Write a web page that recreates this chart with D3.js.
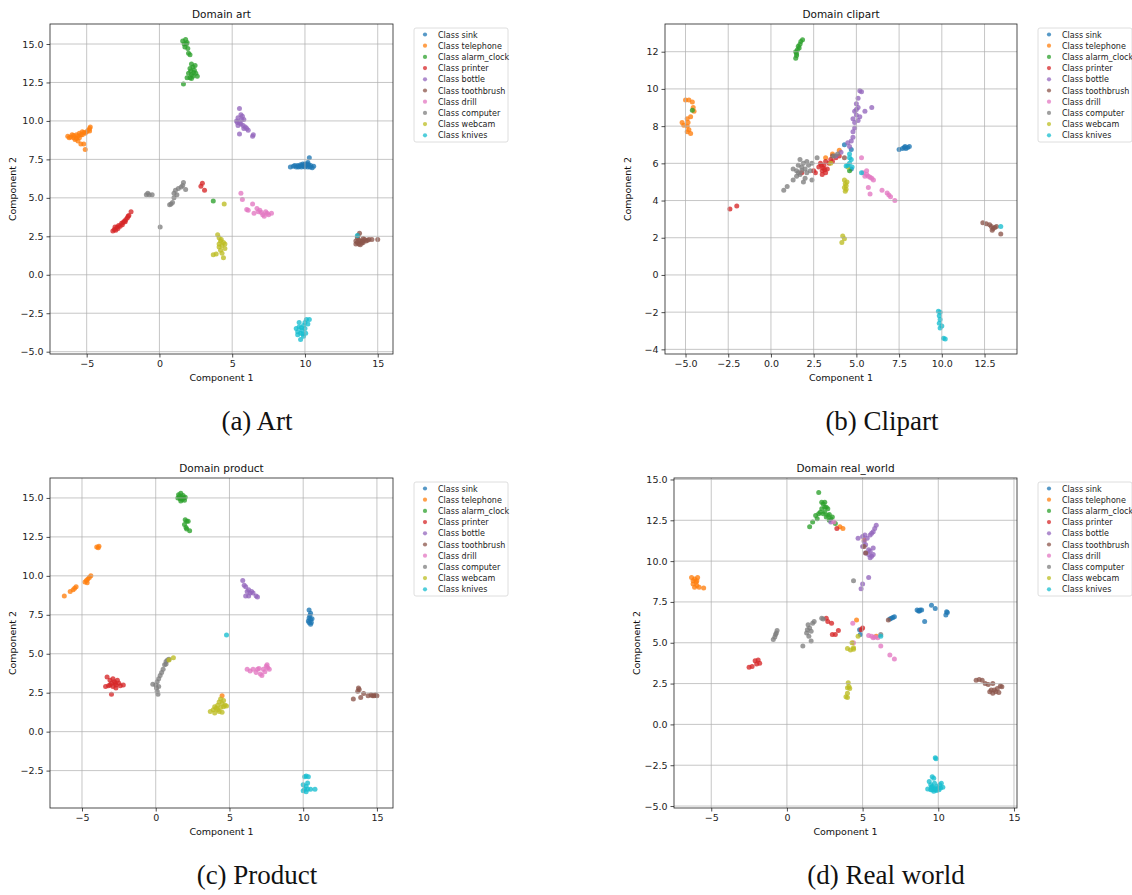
<!DOCTYPE html>
<html>
<head>
<meta charset="utf-8">
<script src="https://cdn.jsdelivr.net/npm/d3@7"></script>
<style>
  body { margin: 0; background: #fff; }
  svg { display: block; }
</style>
</head>
<body>
<div id="chart"></div>
<script>
// classes, in legend order
const classes = ['sink', 'telephone', 'alarm_clock', 'printer', 'bottle', 'toothbrush', 'drill', 'computer', 'webcam', 'knives'];
const colors = ['#1f77b4', '#ff7f0e', '#2ca02c', '#d62728', '#9467bd', '#8c564b', '#e377c2', '#7f7f7f', '#bcbd22', '#17becf'];

const domainNames = ['art', 'clipart', 'product', 'real_world'];
const captions = ['(a) Art', '(b) Clipart', '(c) Product', '(d) Real world'];

// tick labels per panel
const xTicksA = [-5, 0, 5, 10, 15];
const yTicksA = [-5, -2.5, 0, 2.5, 5, 7.5, 10, 12.5, 15];
const xTicksB = [-5, -2.5, 0, 2.5, 5, 7.5, 10, 12.5];
const yTicksB = [-4, -2, 0, 2, 4, 6, 8, 10, 12];
const xTicksC = [-5, 0, 5, 10, 15];
const yTicksC = [-2.5, 0, 2.5, 5, 7.5, 10, 12.5, 15];
const xTicksD = [-5, 0, 5, 10, 15];
const yTicksD = [-5, -2.5, 0, 2.5, 5, 7.5, 10, 12.5, 15];

// points per class (same order as classes)
const artData = [
  [[9.0,7.0],[9.2,7.05],[9.4,7.0],[9.5,7.1],[9.6,7.05],[9.7,7.15],[9.8,7.1],[9.9,7.05],[10.0,7.2],[10.1,7.1],[10.2,7.3],[10.3,7.6],[10.2,7.0],[10.4,7.1],[10.5,6.95],[10.6,7.05],[9.85,7.2],[10.25,7.15],[9.3,7.1],[10.0,7.0],[9.55,7.0],[10.35,7.0],[10.15,7.2],[9.75,7.0]],
  [[-6.3,9.0],[-6.1,8.95],[-5.9,9.05],[-5.8,8.8],[-5.7,9.1],[-5.6,8.7],[-5.5,9.2],[-5.4,8.5],[-5.3,9.3],[-5.2,8.5],[-5.2,9.25],[-5.0,9.3],[-4.9,9.4],[-4.8,9.5],[-4.75,9.6],[-5.1,8.15],[-5.6,9.0],[-5.9,8.9],[-5.4,9.1],[-6.0,9.1],[-5.7,8.85],[-5.1,9.2],[-5.5,8.9],[-6.2,8.9],[-5.3,9.1],[-4.8,9.35]],
  [[1.6,15.2],[1.8,15.3],[1.7,15.0],[1.9,15.1],[1.75,14.8],[1.95,14.7],[2.0,14.4],[2.1,14.3],[2.2,13.7],[2.3,13.5],[2.1,13.4],[2.4,13.3],[2.0,13.1],[2.2,13.0],[2.5,13.1],[2.3,12.9],[2.1,12.8],[1.9,12.8],[2.6,12.9],[1.65,12.4],[2.45,13.6],[2.2,12.75],[2.15,13.25],[2.35,13.15],[1.85,15.0],[3.7,4.8]],
  [[-3.2,2.85],[-3.1,2.95],[-3.0,2.9],[-2.9,3.1],[-2.8,3.2],[-2.7,3.15],[-2.6,3.35],[-2.5,3.4],[-2.4,3.5],[-2.3,3.6],[-2.2,3.7],[-2.1,3.85],[-1.95,4.1],[-2.85,3.0],[-2.55,3.25],[-3.05,3.1],[-2.35,3.45],[-2.15,3.8],[2.95,5.95],[2.85,5.75],[3.1,5.5]],
  [[5.5,10.8],[5.6,10.4],[5.4,10.2],[5.7,10.3],[5.3,10.0],[5.5,9.9],[5.8,10.1],[5.6,9.8],[5.4,9.7],[5.9,9.6],[6.0,9.5],[6.1,9.4],[5.8,9.5],[5.5,9.15],[6.4,9.0],[6.45,9.1],[5.35,9.9],[5.65,10.1],[5.75,9.7]],
  [[13.5,2.0],[13.6,2.1],[13.7,2.0],[13.8,2.2],[13.9,2.05],[14.0,2.1],[14.1,2.3],[13.6,2.4],[13.75,2.7],[13.5,2.2],[14.2,2.2],[14.4,2.3],[14.6,2.3],[15.0,2.3],[13.8,1.95],[14.0,2.35],[13.65,2.55],[14.3,2.25],[13.7,2.25],[13.95,2.2]],
  [[5.6,5.3],[5.7,4.9],[6.0,4.25],[6.1,4.2],[6.4,4.6],[6.5,4.0],[6.7,4.3],[6.9,4.2],[7.0,4.05],[7.1,3.9],[7.2,3.8],[7.3,4.1],[7.5,3.9],[7.7,4.0],[6.8,4.1],[7.4,4.0]],
  [[-0.9,5.2],[-0.8,5.3],[-0.7,5.2],[-0.5,5.2],[0.05,3.1],[0.7,4.55],[0.8,4.6],[0.9,4.7],[1.0,5.0],[1.0,5.3],[1.1,5.5],[1.3,5.6],[1.5,5.7],[1.6,5.8],[1.65,6.0],[1.8,5.55],[1.2,5.2]],
  [[3.7,1.3],[3.9,1.35],[4.0,2.6],[4.1,2.4],[4.2,2.2],[4.1,1.8],[4.2,1.6],[4.3,1.9],[4.4,2.1],[4.5,2.0],[4.5,1.7],[4.4,1.1],[4.3,1.4],[4.1,2.0],[4.25,2.3],[4.45,4.6]],
  [[9.4,-3.5],[9.5,-3.7],[9.6,-3.4],[9.7,-3.8],[9.8,-3.6],[9.9,-3.3],[10.0,-3.1],[10.1,-2.9],[10.3,-2.9],[10.0,-3.5],[9.9,-4.0],[9.7,-4.2],[10.05,-3.8],[9.5,-3.9],[10.2,-3.2],[9.6,-3.1],[9.75,-3.45],[9.85,-3.85],[13.6,2.55]]
];

const clipartData = [
  [[7.5,6.75],[7.7,6.8],[7.8,6.85],[7.9,6.8],[8.0,6.85],[8.1,6.9],[7.85,6.9],[4.3,7.0],[4.7,6.75],[4.7,5.7]],
  [[-5.0,9.4],[-4.8,9.4],[-4.6,9.3],[-4.55,9.0],[-4.5,8.8],[-4.7,8.5],[-4.9,8.4],[-5.2,8.2],[-5.1,8.05],[-4.9,8.0],[-4.8,7.8],[-4.7,7.6],[-4.9,7.7],[-4.85,8.2],[4.0,6.7],[3.6,6.5],[3.2,6.3]],
  [[1.45,11.65],[1.5,11.8],[1.45,12.0],[1.55,12.1],[1.6,12.3],[1.7,12.4],[1.75,12.55],[1.85,12.65],[1.5,11.9],[1.65,12.2],[-4.6,8.85],[4.6,5.6]],
  [[2.8,5.8],[2.9,6.0],[3.0,5.6],[3.1,5.9],[3.2,6.1],[3.3,5.7],[3.0,5.4],[3.2,5.5],[3.4,6.0],[3.5,6.2],[3.6,6.1],[2.6,5.5],[2.5,5.6],[3.05,5.75],[2.95,5.9],[3.15,5.65],[-2.4,3.55],[-2.0,3.7],[4.0,6.4],[3.8,6.3],[1.8,5.5]],
  [[5.2,9.9],[5.3,9.85],[5.1,9.5],[5.0,9.2],[5.1,9.0],[4.9,8.8],[5.0,8.6],[4.8,8.4],[5.2,8.5],[5.1,8.3],[4.9,8.2],[4.9,7.9],[4.8,7.7],[4.8,7.4],[4.7,7.2],[4.5,7.1],[4.6,6.9],[5.5,8.8],[5.9,9.0],[5.0,8.9],[4.1,6.6],[3.8,6.4]],
  [[12.4,2.8],[12.6,2.75],[12.8,2.7],[12.9,2.6],[13.0,2.5],[12.95,2.4],[13.1,2.55],[13.2,2.6],[13.45,2.2],[4.3,6.3],[3.6,6.4]],
  [[5.3,6.3],[5.4,5.5],[5.5,5.3],[5.6,5.4],[5.7,5.3],[5.8,5.25],[5.9,5.2],[6.0,5.1],[5.6,5.6],[5.7,4.7],[5.8,4.35],[6.5,4.55],[6.8,4.4],[6.9,4.3],[7.0,4.2],[7.25,4.0]],
  [[0.75,4.55],[0.95,4.75],[1.3,5.1],[1.3,5.7],[1.5,5.6],[1.6,5.9],[1.7,6.2],[1.8,5.8],[1.9,6.0],[2.0,5.7],[2.1,5.5],[1.7,5.4],[2.2,5.9],[2.4,6.0],[2.7,6.3],[1.9,5.0],[2.4,5.1],[2.1,6.1],[3.7,6.4],[3.9,6.5],[1.5,5.3],[2.0,5.2],[1.8,5.6],[1.6,5.5],[2.3,5.6]],
  [[4.3,5.1],[4.35,4.9],[4.3,4.7],[4.4,4.6],[4.35,4.5],[4.45,5.0],[4.4,4.8],[4.2,2.1],[4.3,1.95],[4.15,1.75],[3.5,6.0],[4.5,5.8]],
  [[4.6,6.5],[4.7,6.2],[4.6,6.0],[4.75,5.8],[4.5,5.9],[4.4,5.85],[5.3,5.5],[4.6,6.3],[9.8,-1.95],[9.9,-2.0],[9.85,-2.2],[9.9,-2.4],[9.85,-2.6],[10.0,-2.75],[9.9,-2.85],[10.1,-3.4],[10.2,-3.45],[13.45,2.6]]
];

const productData = [
  [[10.4,7.8],[10.5,7.6],[10.4,7.3],[10.5,7.2],[10.35,7.1],[10.55,7.0],[10.5,6.9],[10.45,7.45],[10.6,7.25],[10.4,7.0]],
  [[-6.2,8.7],[-5.8,9.0],[-5.6,9.1],[-5.5,9.2],[-5.4,9.3],[-4.8,9.6],[-4.7,9.7],[-4.6,9.8],[-4.5,9.9],[-4.4,10.0],[-4.65,9.55],[-3.9,11.8],[-4.0,11.85],[-3.85,11.9],[4.5,2.3]],
  [[1.5,15.0],[1.6,15.1],[1.7,15.3],[1.8,14.9],[1.9,15.0],[2.0,15.05],[1.7,14.8],[1.55,15.2],[1.85,15.15],[1.75,15.05],[1.65,14.95],[1.95,14.85],[2.0,13.6],[2.1,13.5],[1.95,13.3],[2.2,13.5],[2.05,13.1],[2.1,13.0],[2.3,12.9]],
  [[-3.3,3.5],[-3.1,3.3],[-3.0,3.1],[-2.9,2.9],[-2.7,3.0],[-2.6,3.3],[-2.5,3.1],[-3.4,2.9],[-3.2,2.95],[-2.8,3.2],[-2.4,2.95],[-3.0,2.4],[-2.7,2.8],[-2.2,3.0],[-2.9,3.4],[-3.1,3.0],[-2.75,3.1]],
  [[5.9,9.7],[6.1,9.3],[6.2,9.0],[6.3,9.1],[6.4,8.9],[6.5,9.0],[6.6,8.9],[6.3,8.7],[6.8,8.7],[6.9,8.65],[6.1,8.7],[6.0,9.4]],
  [[13.4,2.1],[13.7,2.6],[13.75,2.8],[13.8,2.7],[13.9,2.2],[14.1,2.45],[14.4,2.3],[14.6,2.35],[14.8,2.3],[15.0,2.3],[14.9,2.35],[14.7,2.3]],
  [[6.2,4.0],[6.4,3.9],[6.6,4.0],[6.8,3.8],[7.0,4.05],[7.1,3.7],[7.2,3.6],[7.3,4.0],[7.5,4.2],[7.6,4.1],[7.7,4.0],[7.4,3.85],[7.55,4.3],[6.9,4.0]],
  [[-0.2,3.05],[0.0,3.0],[0.1,3.2],[0.2,3.4],[0.3,3.6],[0.4,3.8],[0.5,4.0],[0.6,4.3],[0.7,4.5],[0.8,4.6],[0.9,4.65],[0.1,2.6],[0.15,2.4],[0.05,2.8],[0.2,2.9],[0.7,4.35]],
  [[3.7,1.3],[3.9,1.4],[4.0,1.2],[4.1,1.5],[4.2,1.7],[4.3,1.9],[4.4,2.1],[4.5,1.8],[4.6,1.6],[4.7,1.7],[4.8,1.65],[4.3,1.3],[4.5,1.25],[4.0,1.6],[4.6,2.0],[4.2,1.4],[4.4,1.55],[1.2,4.75],[0.9,4.6]],
  [[4.8,6.2],[10.1,-2.9],[10.2,-2.85],[10.35,-2.9],[10.0,-3.4],[10.2,-3.5],[10.3,-3.3],[10.1,-3.7],[10.3,-3.7],[10.5,-3.7],[10.8,-3.7],[10.0,-3.8],[10.2,-3.85]]
];

const realWorldData = [
  [[8.6,7.0],[8.7,6.95],[8.8,7.0],[8.9,7.0],[8.75,6.95],[9.1,6.3],[9.55,7.3],[9.8,7.1],[10.5,6.7],[10.6,6.85],[10.55,6.9],[6.9,6.5],[7.0,6.55],[7.1,6.6],[6.8,6.45],[4.8,5.8],[4.85,5.5]],
  [[-6.3,9.0],[-6.1,8.9],[-5.9,9.0],[-6.2,8.8],[-6.0,8.7],[-5.95,8.5],[-6.1,8.4],[-5.8,8.4],[-6.2,8.6],[-5.5,8.35],[-5.95,8.8],[3.5,12.1],[3.7,12.0],[4.6,6.4],[5.9,5.4],[5.1,11.3]],
  [[2.1,14.2],[2.3,13.6],[2.4,13.5],[2.5,13.6],[2.6,13.3],[2.3,13.2],[2.2,13.0],[2.5,13.0],[2.7,12.8],[2.9,12.6],[3.0,12.7],[2.1,12.9],[1.9,12.8],[2.0,12.6],[2.7,13.2],[2.8,12.5],[3.2,12.3],[1.5,12.1],[1.7,12.4],[2.6,12.7],[2.4,12.9],[2.5,13.3],[2.8,12.85]],
  [[-2.5,3.5],[-2.3,3.55],[-2.1,3.9],[-1.9,3.95],[-1.8,3.75],[-2.0,3.7],[2.6,6.5],[2.7,6.3],[2.95,6.2],[3.0,5.5],[3.2,5.5],[3.4,5.75],[3.3,12.0],[5.0,5.9],[4.9,5.8]],
  [[5.0,11.5],[5.1,11.2],[5.2,11.0],[5.3,11.4],[5.5,11.6],[5.6,11.7],[5.8,12.0],[5.9,12.2],[5.7,11.8],[5.0,10.9],[5.2,10.5],[5.4,10.7],[5.5,10.2],[5.6,10.3],[5.7,10.4],[5.5,10.6],[5.7,10.8],[5.15,11.6],[5.4,10.4],[4.7,11.4],[4.9,8.3],[5.0,8.6],[5.4,9.0],[2.9,12.4]],
  [[12.5,2.7],[12.7,2.75],[12.9,2.7],[13.1,2.5],[13.3,2.45],[13.6,2.5],[13.4,2.0],[13.6,1.9],[13.8,2.0],[14.0,1.95],[14.2,2.3],[13.5,2.1],[13.9,2.2],[14.1,2.35],[13.7,2.1],[5.2,10.5],[5.1,10.9],[6.7,6.4]],
  [[4.35,6.2],[5.4,5.45],[5.6,5.4],[5.7,5.3],[6.0,5.3],[6.2,4.8],[6.8,4.25],[7.1,4.0],[4.4,5.0],[3.1,12.4],[5.8,5.35]],
  [[-0.9,5.2],[-0.8,5.35],[-0.75,5.5],[-0.7,5.6],[-0.65,5.75],[1.05,4.8],[1.6,5.1],[1.3,5.6],[1.35,5.8],[1.4,6.1],[1.5,5.9],[1.6,5.7],[1.7,6.2],[1.8,6.3],[2.3,6.5],[2.4,6.45],[1.45,5.4],[4.4,8.8],[6.2,5.5]],
  [[4.0,4.65],[4.2,4.55],[4.4,4.7],[4.4,4.6],[4.05,2.55],[4.1,2.3],[4.15,2.2],[4.0,2.25],[4.0,1.9],[3.9,1.7],[4.0,1.65],[4.7,5.4],[4.3,5.0]],
  [[9.8,-2.05],[9.85,-2.1],[9.6,-3.2],[9.7,-3.3],[9.4,-3.5],[9.5,-3.7],[9.6,-3.8],[9.7,-3.9],[9.8,-4.0],[9.9,-3.8],[10.0,-3.9],[10.1,-3.7],[10.2,-3.6],[10.3,-3.85],[9.5,-4.0],[9.7,-4.1],[9.9,-4.05],[9.3,-3.95],[9.6,-4.0],[10.05,-4.0],[9.75,-3.6],[9.55,-3.85],[9.85,-3.95],[10.15,-3.9],[6.2,5.4]]
];

const W = 1132, H = 895;
const svg = d3.select('#chart').append('svg')
  .attr('width', W)
  .attr('height', H)
  .style('font-family', 'DejaVu Sans, sans-serif');

// panel boxes and axis ranges (pixels / data units)
const panels = [
  { data: artData, left: 50, right: 393, top: 24, bottom: 354, xd: [-7.52, 16.05], yd: [-5.15, 16.3], xt: xTicksA, yt: yTicksA, xf: d3.format('d'), yf: d3.format('.1f'), legX: 414, legY: 28, capX: 257, capY: 430 },
  { data: clipartData, left: 665, right: 1017, top: 24, bottom: 354, xd: [-6.2, 14.4], yd: [-4.25, 13.49], xt: xTicksB, yt: yTicksB, xf: d3.format('.1f'), yf: d3.format('d'), legX: 1038, legY: 28, capX: 882, capY: 430 },
  { data: productData, left: 50, right: 393, top: 478, bottom: 808, xd: [-7.17, 16.09], yd: [-4.9, 16.28], xt: xTicksC, yt: yTicksC, xf: d3.format('d'), yf: d3.format('.1f'), legX: 414, legY: 482, capX: 257, capY: 884 },
  { data: realWorldData, left: 674, right: 1017, top: 478, bottom: 808, xd: [-7.46, 15.2], yd: [-5.12, 15.09], xt: xTicksD, yt: yTicksD, xf: d3.format('d'), yf: d3.format('.1f'), legX: 1038, legY: 482, capX: 886, capY: 884 }
];

const minus = s => s.replace('-', '\u2212');

panels.forEach((p, pi) => {
  const x = d3.scaleLinear().domain(p.xd).range([p.left, p.right]);
  const y = d3.scaleLinear().domain(p.yd).range([p.bottom, p.top]);
  const g = svg.append('g');

  // points
  p.data.forEach((pts, ci) => {
    g.append('g').selectAll('circle')
      .data(pts)
      .enter()
      .append('circle')
      .attr('cx', d => x(d[0]))
      .attr('cy', d => y(d[1]))
      .attr('r', 2.5)
      .attr('fill', colors[ci])
      .attr('fill-opacity', 0.78);
  });

  // grid (drawn over the points like matplotlib)
  g.append('g').selectAll('line.gx')
    .data(p.xt).enter().append('line')
    .attr('x1', d => x(d)).attr('x2', d => x(d))
    .attr('y1', p.top).attr('y2', p.bottom)
    .attr('stroke', '#b0b0b0').attr('stroke-width', 0.9).attr('stroke-opacity', 0.8);
  g.append('g').selectAll('line.gy')
    .data(p.yt).enter().append('line')
    .attr('y1', d => y(d)).attr('y2', d => y(d))
    .attr('x1', p.left).attr('x2', p.right)
    .attr('stroke', '#b0b0b0').attr('stroke-width', 0.9).attr('stroke-opacity', 0.8);

  // axes
  const xAxis = g.append('g')
    .attr('transform', 'translate(0,' + p.bottom + ')')
    .call(d3.axisBottom(x).tickValues(p.xt).tickSize(3.5).tickPadding(3).tickFormat(d => minus(p.xf(d))));
  const yAxis = g.append('g')
    .attr('transform', 'translate(' + p.left + ',0)')
    .call(d3.axisLeft(y).tickValues(p.yt).tickSize(3.5).tickPadding(3).tickFormat(d => minus(p.yf(d))));
  [xAxis, yAxis].forEach(a => {
    a.select('.domain').remove();
    a.selectAll('line').attr('stroke', '#222').attr('stroke-width', 0.8);
    a.selectAll('text').attr('fill', '#222').style('font-size', '9.5px').style('font-family', 'DejaVu Sans, sans-serif');
  });

  // frame
  g.append('rect')
    .attr('x', p.left).attr('y', p.top)
    .attr('width', p.right - p.left).attr('height', p.bottom - p.top)
    .attr('fill', 'none').attr('stroke', '#222').attr('stroke-width', 0.8);

  // title and labels
  g.append('text')
    .attr('x', (p.left + p.right) / 2).attr('y', p.top - 6)
    .attr('text-anchor', 'middle')
    .style('font-size', '10.5px').attr('fill', '#111')
    .text('Domain ' + domainNames[pi]);
  g.append('text')
    .attr('x', (p.left + p.right) / 2).attr('y', p.bottom + 27)
    .attr('text-anchor', 'middle')
    .style('font-size', '9.5px').attr('fill', '#111')
    .text('Component 1');
  g.append('text')
    .attr('transform', 'translate(' + (p.left - 34) + ',' + ((p.top + p.bottom) / 2) + ') rotate(-90)')
    .attr('text-anchor', 'middle')
    .style('font-size', '9.5px').attr('fill', '#111')
    .text('Component 2');

  // legend
  const leg = g.append('g').attr('transform', 'translate(' + p.legX + ',' + p.legY + ')');
  leg.append('rect')
    .attr('width', 94).attr('height', 114).attr('rx', 2)
    .attr('fill', '#fff').attr('stroke', '#d6d6d6').attr('stroke-width', 0.8);
  const rows = leg.selectAll('g.row')
    .data(classes).enter().append('g')
    .attr('transform', (d, i) => 'translate(0,' + (6.5 + i * 11.2) + ')');
  rows.append('circle')
    .attr('cx', 11).attr('cy', 0).attr('r', 2.1)
    .attr('fill', (d, i) => colors[i]).attr('fill-opacity', 0.75);
  rows.append('text')
    .attr('x', 24).attr('y', 3)
    .style('font-size', '8px').attr('fill', '#222')
    .text(d => 'Class ' + d);

  // caption
  svg.append('text')
    .attr('x', p.capX).attr('y', p.capY)
    .attr('text-anchor', 'middle')
    .style('font-family', 'Liberation Serif, DejaVu Serif, serif')
    .style('font-size', '27px')
    .attr('fill', '#111')
    .text(captions[pi]);
});
</script>
</body>
</html>
